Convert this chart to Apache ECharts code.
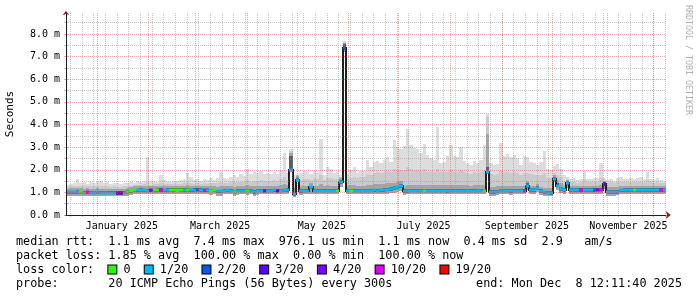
<!DOCTYPE html>
<html><head><meta charset="utf-8">
<script src="https://cdn.jsdelivr.net/npm/echarts@6/dist/echarts.min.js"></script>
<style>html,body{margin:0;padding:0;background:#fff;}#c{width:697px;height:297px;}</style>
</head><body><div id="c"></div>
<script>
// ---- time frame (rrdtool 360-day graph, 2-day buckets) ----
const END_TIME = Date.UTC(2025, 11, 8, 12, 11, 40);
const SPAN_DAYS = 360;
const BUCKET_DAYS = 2;
const DAY = 86400000;
const START_TIME = END_TIME - SPAN_DAYS * DAY;

// ---- smoke (ping distribution) per bucket, ms ----
const pingMax = [
1.32,1.35,1.40,1.60,1.42,1.45,1.38,1.44,1.40,1.48,
1.52,1.40,1.45,1.38,1.42,1.40,1.36,1.42,1.40,1.45,
1.42,1.50,1.48,1.50,2.55,1.50,1.52,1.48,1.78,1.55,
1.50,1.48,1.52,1.50,1.55,1.60,1.85,1.70,1.55,1.58,
1.52,1.60,1.55,1.62,1.55,1.65,1.92,1.62,1.60,1.70,
1.78,1.70,1.82,1.72,2.05,1.80,1.90,1.85,1.95,1.80,
1.85,1.80,1.90,1.82,2.00,2.75,1.85,2.90,1.75,1.80,
1.85,1.95,1.90,1.80,2.00,1.85,3.35,1.75,2.10,2.05,
1.85,1.90,1.75,7.70,1.80,2.00,2.10,1.85,1.95,1.95,
2.45,2.10,2.35,2.40,2.30,2.45,2.55,2.35,3.30,3.00,
2.90,3.05,3.80,3.10,2.95,2.90,2.75,3.15,2.65,2.50,
2.45,3.90,2.30,2.35,2.60,3.10,2.60,2.55,3.00,2.40,
2.30,2.20,2.40,2.30,2.45,3.10,4.45,2.30,2.20,2.25,
3.20,2.60,2.70,2.55,2.65,2.50,2.20,2.60,2.55,2.35,
2.30,2.20,2.35,2.85,2.05,2.00,2.15,2.25,2.05,1.75,
1.70,1.60,1.65,1.55,1.60,1.95,1.60,1.58,1.62,1.65,
2.30,1.65,1.55,1.60,1.50,1.62,1.70,1.60,1.58,1.65,
1.60,1.62,1.70,1.60,1.88,1.60,1.55,1.62,1.55,1.50];
const upperQ = [
1.24,1.26,1.27,1.30,1.27,1.27,1.26,1.27,1.26,1.28,
1.28,1.26,1.27,1.25,1.26,1.25,1.24,1.26,1.27,1.30,
1.32,1.34,1.34,1.35,1.45,1.34,1.36,1.35,1.40,1.36,
1.36,1.35,1.37,1.36,1.38,1.40,1.45,1.42,1.38,1.40,
1.38,1.40,1.39,1.42,1.40,1.40,1.45,1.42,1.42,1.45,
1.45,1.44,1.48,1.45,1.55,1.48,1.50,1.50,1.55,1.50,
1.52,1.50,1.55,1.52,1.58,1.70,1.55,2.85,1.45,1.76,
1.55,1.60,1.58,1.55,1.62,1.58,1.75,1.55,1.65,1.62,
1.58,1.60,1.68,7.66,1.60,1.65,1.68,1.62,1.66,1.70,
1.80,1.78,1.85,1.88,1.85,1.90,1.95,1.90,2.05,2.00,
1.98,2.00,2.10,2.02,1.98,1.97,1.95,2.02,1.92,1.90,
1.90,2.05,1.88,1.88,1.92,2.00,1.92,1.90,1.98,1.88,
1.85,1.82,1.88,1.85,1.90,2.00,4.35,1.80,1.78,1.80,
1.95,1.88,1.90,1.85,1.88,1.85,1.78,1.85,1.85,1.80,
1.78,1.75,1.78,1.85,1.65,1.62,1.85,1.75,1.68,1.50,
1.60,1.45,1.47,1.42,1.45,1.55,1.45,1.44,1.46,1.47,
1.65,1.50,1.42,1.44,1.40,1.44,1.48,1.45,1.44,1.46,
1.45,1.46,1.48,1.45,1.55,1.45,1.42,1.45,1.42,1.40];
const midQ = [
1.17,1.18,1.18,1.20,1.18,1.17,1.18,1.17,1.17,1.18,
1.17,1.16,1.16,1.15,1.16,1.15,1.14,1.16,1.20,1.22,
1.26,1.27,1.28,1.27,1.30,1.27,1.28,1.28,1.30,1.28,
1.28,1.28,1.29,1.30,1.29,1.30,1.32,1.30,1.28,1.30,
1.28,1.29,1.28,1.28,1.28,1.24,1.26,1.27,1.28,1.30,
1.25,1.28,1.30,1.28,1.32,1.28,1.26,1.30,1.30,1.28,
1.30,1.28,1.30,1.28,1.32,1.35,1.32,2.75,1.20,1.72,
1.28,1.30,1.30,1.40,1.30,1.28,1.35,1.30,1.32,1.30,
1.30,1.28,1.62,7.62,1.30,1.32,1.32,1.30,1.30,1.30,
1.32,1.32,1.35,1.35,1.36,1.38,1.40,1.40,1.42,1.45,
1.50,1.30,1.32,1.33,1.34,1.33,1.34,1.33,1.32,1.33,
1.32,1.34,1.33,1.32,1.32,1.33,1.33,1.34,1.32,1.32,
1.32,1.30,1.32,1.32,1.33,1.34,3.60,1.25,1.24,1.26,
1.30,1.30,1.30,1.30,1.30,1.30,1.30,1.30,1.50,1.30,
1.30,1.38,1.25,1.20,1.20,1.18,1.78,1.55,1.40,1.30,
1.55,1.28,1.27,1.27,1.28,1.28,1.27,1.27,1.28,1.30,
1.32,1.52,1.22,1.22,1.22,1.23,1.28,1.27,1.27,1.28,
1.28,1.27,1.28,1.28,1.27,1.28,1.28,1.27,1.28,1.27];
const innerMax = [
1.08,1.08,1.08,1.09,1.08,1.07,1.08,1.07,1.07,1.08,
1.07,1.07,1.06,1.06,1.07,1.05,1.05,1.06,1.10,1.12,
1.17,1.17,1.18,1.17,1.16,1.17,1.17,1.18,1.18,1.17,
1.18,1.18,1.18,1.19,1.18,1.18,1.18,1.17,1.18,1.19,
1.18,1.17,1.18,1.16,1.17,1.12,1.12,1.16,1.17,1.16,
1.12,1.15,1.15,1.16,1.15,1.16,1.12,1.15,1.16,1.16,
1.16,1.16,1.17,1.16,1.16,1.17,1.20,2.60,1.02,1.65,
1.14,1.15,1.15,1.30,1.16,1.15,1.15,1.16,1.15,1.15,
1.16,1.15,1.55,7.58,1.16,1.16,1.15,1.16,1.16,1.15,
1.16,1.16,1.17,1.16,1.17,1.18,1.20,1.23,1.26,1.30,
1.36,1.13,1.14,1.15,1.15,1.15,1.16,1.15,1.15,1.15,
1.15,1.16,1.15,1.15,1.14,1.15,1.15,1.16,1.15,1.15,
1.15,1.15,1.15,1.16,1.16,1.16,2.10,1.10,1.10,1.11,
1.15,1.15,1.15,1.14,1.15,1.15,1.15,1.16,1.40,1.18,
1.18,1.28,1.13,1.08,1.07,1.04,1.68,1.40,1.25,1.18,
1.50,1.18,1.18,1.18,1.18,1.18,1.18,1.18,1.18,1.19,
1.20,1.45,1.10,1.10,1.10,1.10,1.17,1.18,1.18,1.18,
1.18,1.18,1.18,1.18,1.18,1.18,1.18,1.18,1.18,1.18];
const innerMin = [
0.93,0.93,0.93,0.94,0.93,0.92,0.93,0.92,0.92,0.93,
0.92,0.92,0.91,0.91,0.92,0.90,0.90,0.91,0.95,0.97,
1.02,1.02,1.03,1.02,1.01,1.02,1.02,1.03,1.03,1.02,
1.03,1.03,1.03,1.04,1.03,1.03,1.03,1.02,1.03,1.04,
1.03,1.02,1.03,1.01,1.02,0.97,0.97,1.01,1.02,1.01,
0.95,1.00,1.00,1.01,1.00,1.01,0.95,1.00,1.01,1.01,
1.01,1.01,1.02,1.01,1.01,1.02,1.03,1.95,0.86,1.50,
0.99,1.00,1.00,1.14,1.01,1.00,1.00,1.01,1.00,1.00,
1.01,1.00,1.35,7.30,1.01,1.01,1.00,1.01,1.01,1.00,
1.01,1.01,1.02,1.01,1.02,1.03,1.05,1.08,1.11,1.15,
1.20,0.98,0.99,1.00,1.00,1.00,1.01,1.00,1.00,1.00,
1.00,1.01,1.00,1.00,0.99,1.00,1.00,1.01,1.00,1.00,
1.00,1.00,1.00,1.01,1.01,1.01,1.85,0.95,0.95,0.96,
1.00,1.00,1.00,0.99,1.00,1.00,1.00,1.01,1.20,1.03,
1.03,1.12,0.98,0.93,0.92,0.89,1.52,1.22,1.08,1.03,
1.32,1.03,1.03,1.03,1.03,1.03,1.03,1.03,1.03,1.04,
1.05,1.27,0.94,0.94,0.94,0.95,1.02,1.03,1.03,1.03,
1.03,1.03,1.03,1.03,1.03,1.03,1.03,1.03,1.03,1.03];
const pingMin = [
0.86,0.85,0.86,0.86,0.85,0.85,0.86,0.85,0.85,0.86,
0.85,0.85,0.84,0.84,0.85,0.83,0.83,0.84,0.86,0.88,
0.92,0.92,0.93,0.92,0.92,0.92,0.93,0.93,0.93,0.92,
0.93,0.93,0.93,0.94,0.93,0.93,0.93,0.92,0.93,0.93,
0.93,0.92,0.92,0.90,0.91,0.86,0.86,0.91,0.92,0.91,
0.86,0.90,0.91,0.91,0.90,0.91,0.86,0.90,0.91,0.91,
0.91,0.91,0.92,0.91,0.91,0.92,0.92,1.90,0.80,1.45,
0.90,0.91,0.91,0.95,0.92,0.91,0.91,0.92,0.91,0.91,
0.92,0.91,1.25,7.20,0.92,0.92,0.91,0.92,0.92,0.91,
0.92,0.92,0.93,0.92,0.93,0.94,0.95,0.97,0.99,1.02,
1.06,0.90,0.91,0.92,0.92,0.92,0.92,0.92,0.92,0.92,
0.92,0.92,0.92,0.92,0.91,0.92,0.92,0.92,0.92,0.92,
0.92,0.92,0.92,0.92,0.92,0.92,1.80,0.85,0.85,0.87,
0.91,0.91,0.91,0.90,0.91,0.91,0.91,0.92,1.10,0.93,
0.93,1.00,0.88,0.84,0.83,0.82,1.45,1.10,0.98,0.94,
1.20,0.94,0.94,0.94,0.94,0.94,0.94,0.94,0.94,0.95,
0.95,1.15,0.86,0.86,0.86,0.87,0.93,0.94,0.94,0.94,
0.94,0.94,0.94,0.94,0.94,0.94,0.94,0.94,0.94,0.94];
// ---- median rtt per bucket, ms ----
const median = [
1.00,1.00,1.00,1.01,1.00,0.99,1.00,0.99,0.99,1.00,
0.99,0.99,0.98,0.98,0.99,0.97,0.97,0.98,1.02,1.04,
1.09,1.09,1.10,1.09,1.08,1.09,1.09,1.10,1.10,1.09,
1.10,1.10,1.10,1.11,1.10,1.10,1.10,1.09,1.10,1.11,
1.10,1.09,1.10,1.08,1.09,1.04,1.04,1.08,1.09,1.08,
1.02,1.07,1.07,1.08,1.07,1.08,1.02,1.07,1.08,1.08,
1.08,1.08,1.09,1.08,1.08,1.09,1.10,2.00,0.92,1.55,
1.06,1.07,1.07,1.22,1.08,1.07,1.07,1.08,1.07,1.07,
1.08,1.07,1.45,7.40,1.08,1.08,1.07,1.08,1.08,1.07,
1.08,1.08,1.09,1.08,1.09,1.10,1.12,1.15,1.18,1.22,
1.27,1.05,1.06,1.07,1.07,1.07,1.08,1.07,1.07,1.07,
1.07,1.08,1.07,1.07,1.06,1.07,1.07,1.08,1.07,1.07,
1.07,1.07,1.07,1.08,1.08,1.08,1.90,1.02,1.02,1.03,
1.07,1.07,1.07,1.06,1.07,1.07,1.07,1.08,1.30,1.10,
1.10,1.20,1.05,1.00,0.99,0.96,1.58,1.30,1.15,1.10,
1.40,1.10,1.10,1.10,1.10,1.10,1.10,1.10,1.10,1.11,
1.12,1.35,1.02,1.02,1.02,1.02,1.09,1.10,1.10,1.10,
1.10,1.10,1.10,1.10,1.10,1.10,1.10,1.10,1.10,1.10];
// ---- loss class per bucket (index into lossLabels) ----
const loss = [
1,1,1,1,0,1,5,1,1,1, 1,1,1,1,1,3,3,1,0,0, 0,1,1,1,1,4,0,0,5,1,
1,0,0,0,0,1,0,1,1,2, 1,5,1,0,0,1,1,1,1,1, 0,1,1,1,0,1,1,1,1,4,
1,1,1,3,1,1,1,1,1,1, 1,1,1,1,1,1,1,1,1,1, 1,0,1,2,1,0,1,1,1,1,
1,1,1,1,1,1,1,1,1,1, 1,1,1,1,1,1,1,0,1,1, 1,1,1,1,1,1,1,1,1,1,
1,1,1,1,1,0,1,1,1,1, 1,1,1,1,1,1,1,5,1,1, 1,1,1,1,1,1,1,1,1,1,
1,1,1,1,5,1,1,1,2,4, 5,3,1,1,1,1,1,1,1,1, 0,1,1,1,1,1,1,1,5,1];
const lossLabels = ['0','1/20','2/20','3/20','4/20','10/20','19/20'];
const lossColors = ['#26ff00','#00b8ff','#0059ff','#5e00ff','#7e00ff','#dd00ff','#ff0000'];
const smokeColors = ['#dddddd','#cacaca','#a4a4a4','#5e5e5e'];

// ---- axes / ticks ----
const Y_MAX = 8.93;
const yMajorTicks = [0,1,2,3,4,5,6,7,8];
const yMinorTicks = [0.5,1.5,2.5,3.5,4.5,5.5,6.5,7.5,8.5];
const monthStarts = ['2025-01-01','2025-02-01','2025-03-01','2025-04-01','2025-05-01','2025-06-01',
  '2025-07-01','2025-08-01','2025-09-01','2025-10-01','2025-11-01','2025-12-01'];
const labelDates = ['2025-01-16','2025-03-16','2025-05-16','2025-07-16','2025-09-16','2025-11-16'];
const labelTexts = ['January 2025','March 2025','May 2025','July 2025','September 2025','November 2025'];
const firstMonday = '2024-12-16';

// ---- legend texts ----
const statsLine1 = 'median rtt:  1.1 ms avg  7.4 ms max  976.1 us min  1.1 ms now  0.4 ms sd  2.9   am/s';
const statsLine2 = 'packet loss: 1.85 % avg  100.00 % max  0.00 % min  100.00 % now';
const lossTitle = 'loss color:  ';
const probeLine = 'probe:       20 ICMP Echo Pings (56 Bytes) every 300s';
const endLine = 'end: Mon Dec  8 12:11:40 2025';
const yTitle = 'Seconds';
const watermark = 'RRDTOOL / TOBI OETIKER';

// ---- build ----
const dayOf = s => (Date.parse(s + 'T00:00:00Z') - START_TIME) / DAY;
const monthDays = monthStarts.map(dayOf);
const labelDays = labelDates.map(dayOf);
const weekDays = [];
for (let d = dayOf(firstMonday); d < SPAN_DAYS; d += 7) weekDays.push(d);

const N = median.length;
const smokeData = [], medData = [];
for (let i = 0; i < N; i++) {
  const x0 = i * BUCKET_DAYS, x1 = x0 + BUCKET_DAYS;
  smokeData.push([x0, x1, pingMin[i], pingMax[i], upperQ[i], midQ[i], innerMin[i], innerMax[i]]);
  medData.push([x0, x1, median[i], i > 0 ? median[i-1] : median[i], loss[i]]);
}

const MONO = '"DejaVu Sans Mono", monospace';
const GRID = 'rgba(143,143,143,0.5)';
const MGRID = 'rgba(222,79,79,0.48)';
const AXIS = '#1f1f1f';
const ARROW = '#801f1f';

function band(api, x0, x1, lo, hi, color) {
  if (!(hi > lo)) return null;
  const a = api.coord([x0, hi]), b = api.coord([x1, lo]);
  const X0 = Math.round(a[0]), X1 = Math.round(b[0]);
  const Y0 = Math.round(a[1]), Y1 = Math.round(b[1]);
  return {type: 'rect', shape: {x: X0, y: Y0, width: X1 - X0, height: Math.max(1, Y1 - Y0)}, style: {fill: color}};
}

const baseX = {type: 'value', min: 0, max: SPAN_DAYS, position: 'bottom'};
const baseY = {type: 'value', min: 0, max: Y_MAX, position: 'left'};

const chart = echarts.init(document.getElementById('c'), null, {renderer: 'canvas'});
chart.setOption({
  animation: false,
  backgroundColor: '#ffffff',
  grid: {left: 66, top: 13, width: 600, height: 202, containLabel: false, outerBoundsMode: 'none'},
  xAxis: [
    Object.assign({}, baseX, {
      axisLine: {show: true, onZero: false, lineStyle: {color: AXIS, width: 1}},
      axisTick: {show: false}, splitLine: {show: false},
      axisLabel: {customValues: labelDays, margin: 6, color: '#000', fontFamily: MONO, fontSize: 10,
        formatter: v => { const k = labelDays.findIndex(d => Math.abs(d - v) < 1e-6); return k >= 0 ? labelTexts[k] : ''; }},
      z: 14}),
    Object.assign({}, baseX, {
      axisLine: {show: false}, axisLabel: {show: false},
      axisTick: {show: true, customValues: weekDays, length: 2, lineStyle: {color: GRID}},
      splitLine: {show: true, lineStyle: {color: GRID, width: 1, type: [1, 1]}}, z: 10}),
    Object.assign({}, baseX, {
      axisLine: {show: false}, axisLabel: {show: false},
      axisTick: {show: true, customValues: monthDays, length: 2, lineStyle: {color: MGRID}},
      splitLine: {show: true, lineStyle: {color: MGRID, width: 1, type: [1, 1]}}, z: 11}),
    Object.assign({}, baseX, {
      axisLine: {show: true, onZero: false, symbol: ['none', 'arrow'], symbolSize: [6, 5], symbolOffset: [0, 4.8],
        lineStyle: {color: ARROW, width: 0}},
      axisLabel: {show: false}, axisTick: {show: false}, splitLine: {show: false}, z: 15})
  ],
  yAxis: [
    Object.assign({}, baseY, {
      axisLine: {show: true, onZero: false, lineStyle: {color: AXIS, width: 1}},
      axisTick: {show: true, customValues: yMajorTicks, length: 2, lineStyle: {color: MGRID}},
      axisLabel: {customValues: yMajorTicks, margin: 6, color: '#000', fontFamily: MONO, fontSize: 10,
        formatter: v => v.toFixed(1) + ' m'},
      splitLine: {show: true, lineStyle: {color: MGRID, width: 1, type: [1, 1]}},
      name: yTitle, nameLocation: 'middle', nameGap: 50, nameMoveOverlap: false,
      nameTextStyle: {fontFamily: MONO, fontSize: 11, color: '#000'}, z: 13}),
    Object.assign({}, baseY, {
      axisLine: {show: false}, axisLabel: {show: false},
      axisTick: {show: true, customValues: yMinorTicks, length: 2, lineStyle: {color: GRID}},
      splitLine: {show: true, lineStyle: {color: GRID, width: 1, type: [1, 1]}}, z: 10}),
    Object.assign({}, baseY, {
      axisLine: {show: true, onZero: false, symbol: ['none', 'arrow'], symbolSize: [5, 4], symbolOffset: [0, 2],
        lineStyle: {color: ARROW, width: 0}},
      axisLabel: {show: false}, axisTick: {show: false}, splitLine: {show: false}, z: 15}),
    Object.assign({}, baseY, {position: 'right',
      axisLine: {show: false}, axisLabel: {show: false}, splitLine: {show: false},
      axisTick: {show: true, customValues: yMajorTicks, length: 2, lineStyle: {color: MGRID}}, z: 11}),
    Object.assign({}, baseY, {position: 'right',
      axisLine: {show: false}, axisLabel: {show: false}, splitLine: {show: false},
      axisTick: {show: true, customValues: yMinorTicks, length: 2, lineStyle: {color: GRID}}, z: 10})
  ],
  series: [
    {
      type: 'custom', name: 'smoke', xAxisIndex: 0, yAxisIndex: 0, z: 2, silent: true, clip: true,
      data: smokeData, encode: {x: [0, 1], y: [2, 3]},
      renderItem: (params, api) => {
        const x0 = api.value(0), x1 = api.value(1);
        const lo = api.value(2), hi = api.value(3), uq = api.value(4), mq = api.value(5), il = api.value(6), ih = api.value(7);
        const ch = [
          band(api, x0, x1, lo, hi, smokeColors[0]),
          band(api, x0, x1, lo, uq, smokeColors[1]),
          band(api, x0, x1, lo, mq, smokeColors[2]),
          band(api, x0, x1, il, ih, smokeColors[3])
        ].filter(Boolean);
        return {type: 'group', children: ch};
      }
    },
    {
      type: 'custom', name: 'median', xAxisIndex: 0, yAxisIndex: 0, z: 3, silent: true, clip: true,
      data: medData, encode: {x: [0, 1], y: [2]},
      renderItem: (params, api) => {
        const x0 = api.value(0), x1 = api.value(1), m = api.value(2), pm = api.value(3), li = api.value(4);
        const a = api.coord([x0, m]), b = api.coord([x1, m]), p = api.coord([x0, pm]);
        const X0 = Math.round(a[0]), X1 = Math.round(b[0]);
        const Y = Math.round(a[1]), PY = Math.round(p[1]);
        const ch = [];
        if (Math.abs(Y - PY) > 3) {
          ch.push({type: 'rect', shape: {x: X0 - 1, y: Math.min(Y, PY) - 1, width: 2, height: Math.abs(Y - PY) + 2},
            style: {fill: '#202020'}, z2: 1});
        }
        ch.push({type: 'rect', shape: {x: X0, y: Y - 1.5, width: X1 - X0, height: 3},
          style: {fill: lossColors[li]}, z2: 2});
        return {type: 'group', children: ch};
      }
    }
  ],
  graphic: {elements: [
    {type: 'text', x: 16, y: 241.5, silent: true,
      style: {text: statsLine1, font: '11.8px ' + MONO, fill: '#000', verticalAlign: 'middle', textVerticalAlign: 'middle'}},
    {type: 'text', x: 16, y: 255.5, silent: true,
      style: {text: statsLine2, font: '11.8px ' + MONO, fill: '#000', verticalAlign: 'middle', textVerticalAlign: 'middle'}},
    {type: 'text', x: 16, y: 269.5, silent: true,
      style: {
        text: lossTitle + lossLabels.map((l, i) => '{b' + i + '|} ' + l).join('  '),
        font: '11.8px ' + MONO, fill: '#000', verticalAlign: 'middle', textVerticalAlign: 'middle',
        rich: Object.fromEntries(lossColors.map((c, i) => ['b' + i,
          {width: 8, height: 8, backgroundColor: c, borderColor: '#000', borderWidth: 1}]))
      }},
    {type: 'text', x: 16, y: 283.5, silent: true,
      style: {text: probeLine, font: '11.8px ' + MONO, fill: '#000', verticalAlign: 'middle', textVerticalAlign: 'middle'}},
    {type: 'text', x: 682, y: 283.5, silent: true,
      style: {text: endLine, font: '11.8px ' + MONO, fill: '#000', align: 'right', textAlign: 'right',
        verticalAlign: 'middle', textVerticalAlign: 'middle'}},
    {type: 'text', x: 688, y: 5, rotation: -Math.PI / 2, silent: true,
      style: {text: watermark, font: '8.3px ' + MONO, fill: '#b0b0b0', verticalAlign: 'middle', textVerticalAlign: 'middle'}}
  ]}
});
</script></body></html>
